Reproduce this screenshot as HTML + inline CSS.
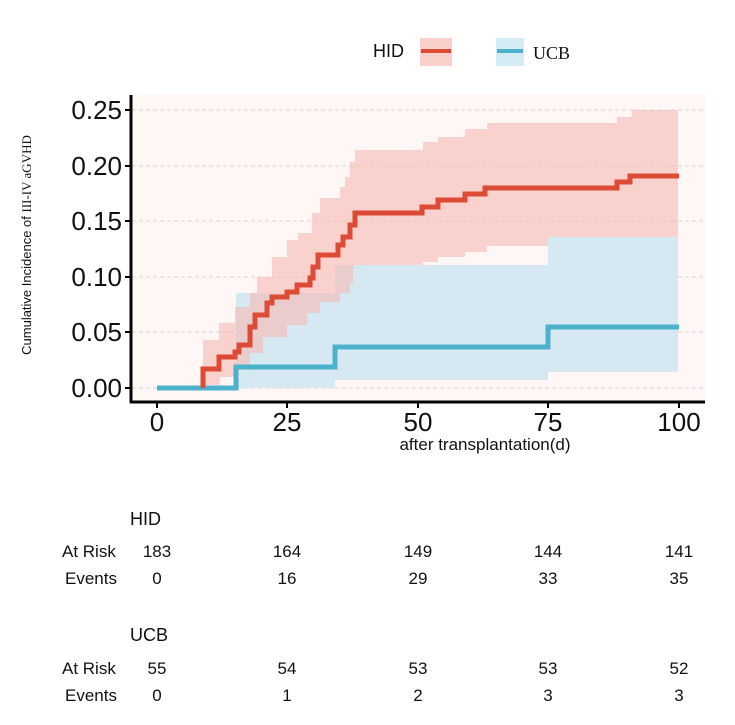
<!DOCTYPE html>
<html><head><style>
body{margin:0;background:#fff;}
svg{display:block;font-family:"Liberation Sans",sans-serif;}
</style></head><body>
<svg width="735" height="725" viewBox="0 0 735 725">
<rect x="132" y="95" width="573" height="307" fill="#fff7f5"/>
<g stroke="#d9d3d3" stroke-dasharray="4,3" stroke-width="1">
<line x1="132" x2="705" y1="110" y2="110"/><line x1="132" x2="705" y1="166" y2="166"/>
<line x1="132" x2="705" y1="221" y2="221"/><line x1="132" x2="705" y1="277" y2="277"/>
<line x1="132" x2="705" y1="332" y2="332"/><line x1="132" x2="705" y1="388" y2="388"/>
</g>
<path d="M236,293 H335 V265 H548 V237 H678 V372 H548 V380 H335 V388 H236 Z" fill="#cfe6f1" opacity="0.85"/>
<path d="M203,340 H219 V323 H235 V307 H250 V293 H257 V277 H272 V257 H287 V240 H298 V233 H312 V213 H320 V198 H340 V187 H345 V177 H350 V162 H355 V150 H423 V142 H438 V137 H465 V129 H487 V123 H617 V117 H632 V110 H678 V237 H548 V246 H487 V252 H465 V257 H438 V262 H423 V265 H353 V283 H350 V293 H340 V302 H320 V313 H307 V325 H287 V337 H263 V353 H250 V370 H235 V377 H220 V385 H203 Z" fill="#f6b9b2" opacity="0.6"/>
<path d="M157,388 H236 V367 H335 V347 H548 V327 H679" fill="none" stroke="#4cb2cc" stroke-width="5"/>
<path d="M203,388 V369 H219 V357 H235 V352 H239 V345 H250 V327 H255 V315 H267 V303 H272 V297 H287 V292 H297 V285 H310 V278 H313 V267 H318 V255 H338 V245 H343 V237 H350 V225 H355 V213 H422 V207 H438 V200 H465 V194 H485 V188 H617 V182 H630 V176 H679" fill="none" stroke="#dc4b35" stroke-width="5"/>
<line x1="131" y1="95" x2="131" y2="403" stroke="#000" stroke-width="3"/>
<line x1="130" y1="402" x2="705" y2="402" stroke="#000" stroke-width="3"/>
<g stroke="#000" stroke-width="2">
<line x1="125" x2="131" y1="110" y2="110"/><line x1="125" x2="131" y1="166" y2="166"/>
<line x1="125" x2="131" y1="221" y2="221"/><line x1="125" x2="131" y1="277" y2="277"/>
<line x1="125" x2="131" y1="332" y2="332"/><line x1="125" x2="131" y1="388" y2="388"/>
<line x1="157" x2="157" y1="402" y2="408"/><line x1="287" x2="287" y1="402" y2="408"/>
<line x1="418" x2="418" y1="402" y2="408"/><line x1="548" x2="548" y1="402" y2="408"/>
<line x1="679" x2="679" y1="402" y2="408"/>
</g>
<g font-size="26" fill="#111" text-anchor="end">
<text x="122" y="119">0.25</text><text x="122" y="175">0.20</text><text x="122" y="230">0.15</text>
<text x="122" y="286">0.10</text><text x="122" y="341">0.05</text><text x="122" y="397">0.00</text>
</g>
<g font-size="26" fill="#111" text-anchor="middle">
<text x="157" y="431">0</text><text x="287" y="431">25</text><text x="418" y="431">50</text>
<text x="548" y="431">75</text><text x="679" y="431">100</text>
</g>
<text x="485" y="450" font-size="17" text-anchor="middle" fill="#111">after transplantation(d)</text>
<text transform="translate(31,245) rotate(-90)" font-size="13" text-anchor="middle" fill="#111">Cumulative Incidence of <tspan font-family="Liberation Serif,serif">III-IV aGVHD</tspan></text>
<text x="373" y="57" font-size="18" fill="#111">HID</text>
<rect x="420" y="38" width="32" height="28" fill="#f9cfca"/>
<line x1="421" x2="451" y1="51" y2="51" stroke="#dc4b35" stroke-width="4"/>
<rect x="496" y="38" width="28" height="28" fill="#d3ebf3"/>
<line x1="497" x2="523" y1="51" y2="51" stroke="#4cb2cc" stroke-width="4"/>
<text x="533" y="59" font-size="18" font-family="Liberation Serif,serif" fill="#111">UCB</text>
<g font-size="17" fill="#111">
<text x="130" y="525" font-size="18">HID</text>
<text x="62" y="557">At Risk</text><text x="65" y="584">Events</text>
<text x="130" y="641" font-size="18">UCB</text>
<text x="62" y="674">At Risk</text><text x="65" y="701">Events</text>
</g>
<g font-size="17" fill="#111" text-anchor="middle">
<text x="157" y="557">183</text><text x="287" y="557">164</text><text x="418" y="557">149</text><text x="548" y="557">144</text><text x="679" y="557">141</text>
<text x="157" y="584">0</text><text x="287" y="584">16</text><text x="418" y="584">29</text><text x="548" y="584">33</text><text x="679" y="584">35</text>
<text x="157" y="674">55</text><text x="287" y="674">54</text><text x="418" y="674">53</text><text x="548" y="674">53</text><text x="679" y="674">52</text>
<text x="157" y="701">0</text><text x="287" y="701">1</text><text x="418" y="701">2</text><text x="548" y="701">3</text><text x="679" y="701">3</text>
</g>
</svg>
</body></html>
